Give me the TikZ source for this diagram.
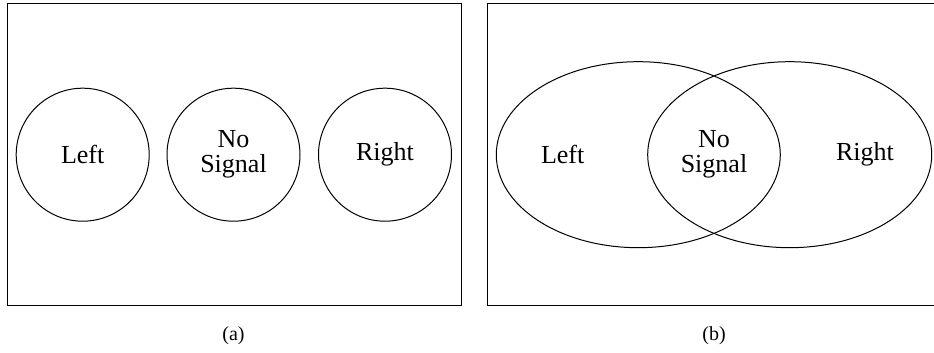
\documentclass[tikz,border=0pt]{standalone}
\usepackage{fontspec}
\setmainfont{Liberation Serif}
\usetikzlibrary{shapes.geometric}

\begin{document}
\begin{tikzpicture}[x=0.5pt, y=0.5pt, line width=0.5pt,
  every node/.style={align=center, font=\fontsize{13}{12.5}\selectfont},
  region/.style={circle, draw, minimum size=66.5pt, inner sep=0pt},
  zone/.style={ellipse, draw, minimum width=142pt, minimum height=93pt, inner sep=0pt},
  caption/.style={font=\fontsize{10}{12}\selectfont}]

\useasboundingbox (0,0) rectangle (934,353);

% Riquadri
\draw (7,47.5) rectangle (461,349.5);
\draw (487.5,47.5) rectangle (934.5,349.5);

% (a) regioni separate
\node[region] (left) at (82.7,198.3) {};
\node[region] (none) at (233.5,198.3) {};
\node[region] (right) at (385,198.3) {};
\node (leftlabel) at (left) {Left};
\node (nonelabel) at (none) {No\\Signal};
\node (rightlabel) at (right) {Right};

% (b) regioni sovrapposte
\node[zone] (leftzone) at (638.3,198.3) {};
\node[zone] (rightzone) at (789.7,198.3) {};
\node (leftzonelabel) at (562.7,198.3) {Left};
\node (nonezonelabel) at (714,198.3) {No\\Signal};
\node (rightzonelabel) at (865,198.3) {Right};

% Didascalie
\node[caption] (capa) at (233.5,17) {(a)};
\node[caption] (capb) at (714,17) {(b)};
\end{tikzpicture}
\end{document}
